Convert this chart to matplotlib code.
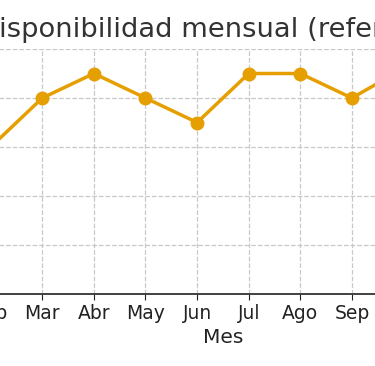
import matplotlib.pyplot as plt

# Month labels of the full axis (only part of it is visible in the crop)
all_months = ["Ene", "Feb", "Mar", "Abr", "May", "Jun",
              "Jul", "Ago", "Sep", "Oct", "Nov", "Dic"]

# Visible data (availability, %)
months = ["Feb", "Mar", "Abr", "May", "Jun", "Jul", "Ago", "Sep", "Oct"]
availability = [98.0, 99.0, 99.5, 99.0, 98.5, 99.5, 99.5, 99.0, 99.6]

fig = plt.figure(figsize=(3.75, 3.66), dpi=100)
# axes wider than the figure: the picture is a crop of a larger chart
ax = fig.add_axes([-0.2381, 0.1967, 1.665, 0.6694])

x = [all_months.index(m) for m in months]
ax.plot(x, availability, color="#E69F00", linewidth=2.5,
        marker="o", markersize=9, zorder=3)

ax.set_xticks(range(len(all_months)))
ax.set_xticklabels(all_months)
ax.set_xlim(-0.55, len(all_months) - 1 + 0.55)
ax.set_ylim(95, 100)
ax.set_yticks([95, 96, 97, 98, 99, 100])

ax.grid(True, linestyle="--", color="#c8c8c8", linewidth=0.9)
ax.set_axisbelow(True)
for s in ["top", "right"]:
    ax.spines[s].set_visible(False)
ax.spines["bottom"].set_color("#333333")
ax.spines["bottom"].set_linewidth(1.3)
ax.tick_params(axis="x", labelsize=13.5, length=4, colors="#222222")
ax.tick_params(axis="y", labelsize=13.5)

ax.set_xlabel("Mes", fontsize=14.5, color="#222222", labelpad=3)
ax.set_title("Disponibilidad mensual (referencia)", fontsize=19.7,
             color="#333333", pad=9)

fig.savefig("out.png", dpi=100)
